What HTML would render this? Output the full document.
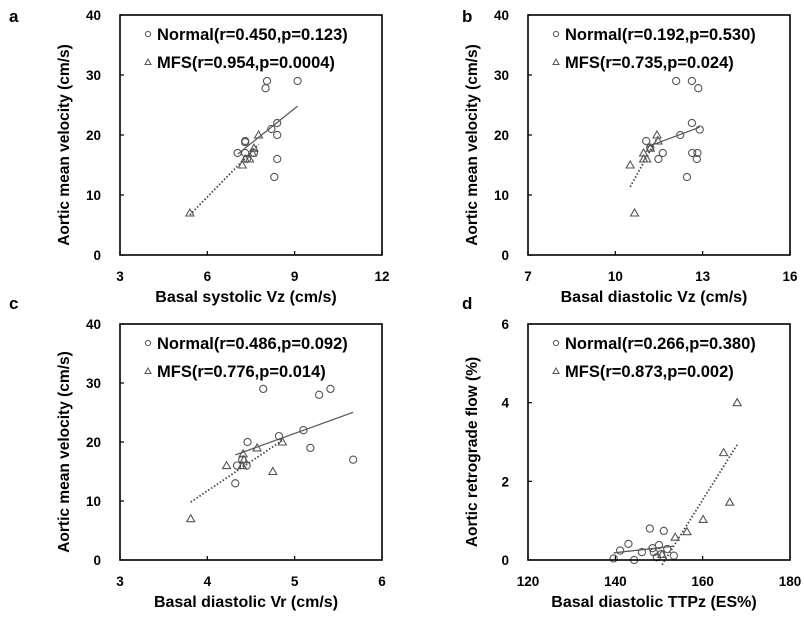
<!DOCTYPE html>
<html><head><meta charset="utf-8"><style>
html,body{margin:0;padding:0;background:#fff;}
svg{display:block;font-family:"Liberation Sans",Arial,sans-serif;font-weight:bold;}
</style></head><body>
<svg id="fig" width="804" height="617" viewBox="0 0 804 617"></svg>
<script>
// Panel a data
const aNormX=[8.05,8.0,9.1,8.4,8.2,8.4,8.4,8.3,7.3,7.3,7.04,7.3,7.6,7.36];
const aNormY=[29,27.8,29,22,21,20,16,13,19,18.8,17,17,17,16];
const aMfsX=[5.4,7.2,7.76,7.6,7.3,7.45,7.55];
const aMfsY=[7,15,20,17.8,16,16,17];
// Panel b data
const bNormX=[12.09,12.63,12.85,12.63,12.23,12.9,11.06,11.63,11.48,12.64,12.82,12.8,12.46,11.2];
const bNormY=[29,29,27.8,22,20,20.9,19,17,16,17,17,16,13,17.9];
const bMfsX=[10.51,10.66,11.43,11.47,11.2,10.97,10.97,11.08];
const bMfsY=[15,7,20,19,17.8,17,16,16];
// Panel c data
const cNormX=[4.64,5.28,5.41,5.1,4.82,5.18,5.67,4.46,4.32,4.34,4.45,4.4];
const cNormY=[29,28,29,22,21,19,17,20,13,16,16,17];
const cMfsX=[3.81,4.22,4.41,4.57,4.86,4.75,4.4,4.42];
const cMfsY=[7,16,18,19,20,15,16,17];
// Panel d data
const dNormX=[139.6,141.1,143,144.3,146.1,147.9,148.5,148.8,150,151.1,151.9,153.4,149.5,150.5];
const dNormY=[0.04,0.24,0.41,0,0.2,0.8,0.3,0.2,0.38,0.74,0.28,0.11,0.07,0.15];
const dMfsX=[167.9,164.8,166.2,160.1,156.4,153.7,150.7];
const dMfsY=[4.0,2.73,1.47,1.03,0.72,0.58,0.14];
// Axis ticks
const aXTicks=[3,6,9,12], bXTicks=[7,10,13,16], cXTicks=[3,4,5,6], dXTicks=[120,140,160,180];
const velYTicks=[0,10,20,30,40], dYTicks=[0,2,4,6];
// Labels
const aLegend=["Normal(r=0.450,p=0.123)","MFS(r=0.954,p=0.0004)"];
const bLegend=["Normal(r=0.192,p=0.530)","MFS(r=0.735,p=0.024)"];
const cLegend=["Normal(r=0.486,p=0.092)","MFS(r=0.776,p=0.014)"];
const dLegend=["Normal(r=0.266,p=0.380)","MFS(r=0.873,p=0.002)"];

const NS="http://www.w3.org/2000/svg";
const svg=document.getElementById('fig');
function mk(tag,attrs,parent,text){const e=document.createElementNS(NS,tag);for(const k in attrs)e.setAttribute(k,attrs[k]);if(text!==undefined)e.textContent=text;(parent||svg).appendChild(e);return e;}
function fit(xs,ys){const n=xs.length;let mx=0,my=0;for(let i=0;i<n;i++){mx+=xs[i];my+=ys[i];}mx/=n;my/=n;let sxy=0,sxx=0;for(let i=0;i<n;i++){sxy+=(xs[i]-mx)*(ys[i]-my);sxx+=(xs[i]-mx)**2;}const b=sxy/sxx;return {b:b,a:my-b*mx,min:Math.min(...xs),max:Math.max(...xs)};}

function panel(p){
  const g=mk('g',{});
  
  
  const L=p.L,R=p.R,T=p.T,B=p.B;
  const sx=v=>L+(v-p.xt[0])/(p.xt[p.xt.length-1]-p.xt[0])*(R-L);
  const sy=v=>B-(v-p.yt[0])/(p.yt[p.yt.length-1]-p.yt[0])*(B-T);
  const lab=mk('text',{x:p.lx,y:p.ly,'font-size':17,fill:'#000'},g,p.id);
  
  
  p.xt.forEach(v=>{
    const t=mk('text',{x:sx(v),y:B+26,'font-size':13.5,'text-anchor':'middle'},g,String(v));
    
    
    mk('line',{x1:sx(v),x2:sx(v),y1:B,y2:B-4,stroke:'#000','stroke-width':1.2},g);
  });
  p.yt.forEach(v=>{
    const t=mk('text',{x:L-19,y:sy(v)+5,'font-size':13.5,'text-anchor':'end'},g,String(v));
    
    
    mk('line',{x1:L,x2:L+4,y1:sy(v),y2:sy(v),stroke:'#000','stroke-width':1.2},g);
  });
  const xt=mk('text',{x:(L+R)/2-5,y:B+47,'font-size':16,'text-anchor':'middle','xml:space':'preserve'},g,p.xtitle);
  
  
  const ycx=L-51, ycy=(T+B)/2+10;
  const yt=mk('text',{x:ycx,y:ycy,'font-size':15.5,'text-anchor':'middle','xml:space':'preserve',transform:`rotate(-90 ${ycx} ${ycy})`},g,p.ytitle);
  
  
  const fn=fit(p.nx,p.ny), fm=fit(p.mx,p.my);
  const ln=mk('line',{x1:sx(fn.min),y1:sy(fn.a+fn.b*fn.min),x2:sx(fn.max),y2:sy(fn.a+fn.b*fn.max),stroke:'#555','stroke-width':1.2},g);
  
  
  const lm=mk('line',{x1:sx(fm.min),y1:sy(fm.a+fm.b*fm.min),x2:sx(fm.max),y2:sy(fm.a+fm.b*fm.max),stroke:'#444','stroke-width':1.8,'stroke-dasharray':'1.5 2'},g);
  
  
  p.nx.forEach((v,i)=>{
    const c=mk('circle',{cx:sx(v),cy:sy(p.ny[i]),r:3.6,fill:'none',stroke:'#555','stroke-width':1.1},g);
    
    
  });
  p.mx.forEach((v,i)=>{
    const x=sx(v),y=sy(p.my[i]);
    const t=mk('polygon',{points:`${x},${y-4} ${x-4},${y+3} ${x+4},${y+3}`,fill:'none',stroke:'#555','stroke-width':1.1},g);
    
    
  });
  mk('rect',{x:L,y:T,width:R-L,height:B-T,fill:'none',stroke:'#000','stroke-width':1.6},g);
  const lg=mk('g',{},g);
  
  
  mk('circle',{cx:L+28,cy:T+19,r:2.6,fill:'none',stroke:'#555','stroke-width':1},lg);
  mk('text',{x:L+37,y:T+25,'font-size':16.5},lg,p.leg[0]);
  const x2=L+28,y2=T+47;
  mk('polygon',{points:`${x2},${y2-3} ${x2-3},${y2+2.5} ${x2+3},${y2+2.5}`,fill:'none',stroke:'#555','stroke-width':1},lg);
  mk('text',{x:L+37,y:T+53,'font-size':16.5},lg,p.leg[1]);
}

panel({id:'a',L:120,R:382,T:15,B:255,lx:9,ly:22,xt:aXTicks,yt:velYTicks,nx:aNormX,ny:aNormY,mx:aMfsX,my:aMfsY,leg:aLegend,xtitle:'Basal  systolic  Vz (cm/s)',ytitle:'Aortic mean velocity  (cm/s)'});
panel({id:'b',L:528,R:790,T:15,B:255,lx:462,ly:22,xt:bXTicks,yt:velYTicks,nx:bNormX,ny:bNormY,mx:bMfsX,my:bMfsY,leg:bLegend,xtitle:'Basal  diastolic  Vz  (cm/s)',ytitle:'Aortic mean velocity  (cm/s)'});
panel({id:'c',L:120,R:382,T:324,B:560,lx:9,ly:309,xt:cXTicks,yt:velYTicks,nx:cNormX,ny:cNormY,mx:cMfsX,my:cMfsY,leg:cLegend,xtitle:'Basal  diastolic  Vr (cm/s)',ytitle:'Aortic mean velocity  (cm/s)'});
panel({id:'d',L:528,R:790,T:324,B:560,lx:462,ly:309,xt:dXTicks,yt:dYTicks,nx:dNormX,ny:dNormY,mx:dMfsX,my:dMfsY,leg:dLegend,xtitle:'Basal  diastolic  TTPz  (ES%)',ytitle:'Aortic  retrograde  flow  (%)'});
</script>
</body></html>
